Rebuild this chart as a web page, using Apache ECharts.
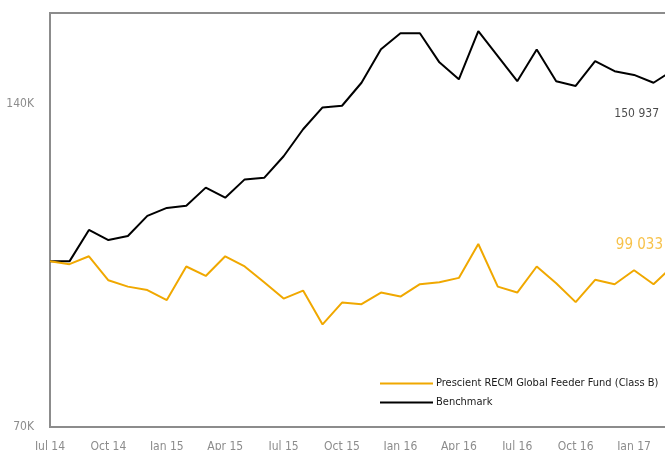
<!DOCTYPE html>
<html><head><meta charset="utf-8">
<script src="https://cdn.jsdelivr.net/npm/echarts@6/dist/echarts.min.js"></script>
<style>html,body{margin:0;padding:0;background:#fff}#c{width:665px;height:450px}</style>
</head><body><div id="c"></div>
<script>
const months = ['Jul 14','Aug 14','Sep 14','Oct 14','Nov 14','Dec 14','Jan 15','Feb 15','Mar 15','Apr 15','May 15','Jun 15','Jul 15','Aug 15','Sep 15','Oct 15','Nov 15','Dec 15','Jan 16','Feb 16','Mar 16','Apr 16','May 16','Jun 16','Jul 16','Aug 16','Sep 16','Oct 16','Nov 16','Dec 16','Jan 17','Feb 17','Mar 17'];
const fundName = 'Prescient RECM Global Feeder Fund (Class B)';
const benchName = 'Benchmark';
const fundValues = [100000,99400,101100,96000,94700,94000,92000,98900,96900,101100,98900,95600,92300,93900,87300,91500,91200,93500,92700,95200,95600,96500,103800,94700,93500,98900,95400,91600,96100,95200,98100,95200,99033];
const benchmarkValues = [100000,100000,107000,104700,105600,110300,112200,112700,117200,114700,119300,119700,125400,132900,139300,139800,146900,157900,163400,163400,153500,148000,164200,155600,147400,157800,147400,145900,153900,150600,149400,146900,150937];
const yTickLabels = ['70K','140K'];

const FONT = "'Liberation Sans Narrow','DejaVu Sans Condensed','Arial Narrow',sans-serif";
const fmtNum = v => String(Math.round(v)).replace(/\B(?=(\d{3})+(?!\d))/g, ' ');
const last = months.length - 1;

const chart = echarts.init(document.getElementById('c'), null, {renderer: 'canvas'});
chart.setOption({
  animation: false,
  textStyle: {fontFamily: FONT},
  grid: {left: 50, top: 13, width: 623, bottom: 23, outerBoundsMode: 'none', containLabel: false, show: true, borderColor: '#8c8c8c', borderWidth: 2},
  legend: {
    data: [fundName, benchName], orient: 'vertical', left: 375, top: 373,
    icon: 'rect', itemWidth: 53, itemHeight: 2, itemGap: 8,
    textStyle: {fontFamily: FONT, fontSize: 11, color: '#1a1a1a', padding: [0,0,0,-2]}
  },
  xAxis: {
    type: 'category', data: months, boundaryGap: false,
    axisLine: {show: false}, axisTick: {show: false}, splitLine: {show: false},
    axisLabel: {interval: 2, color: '#8c8c8c', fontSize: 12, margin: 14, fontFamily: FONT}
  },
  yAxis: {
    type: 'log', logBase: 2, min: 70000, max: 170700, interval: 1,
    axisLine: {show: false}, axisTick: {show: false}, splitLine: {show: false},
    axisLabel: {color: '#8c8c8c', fontSize: 12, margin: 16, fontFamily: FONT, showMaxLabel: false,
      formatter: v => { const s = Math.round(v / 1000) + 'K'; return yTickLabels.includes(s) ? s : ''; }}
  },
  series: [
    {name: fundName, type: 'line', data: fundValues, showSymbol: false, lineStyle: {color: '#f0a800', width: 2}, itemStyle: {color: '#f0a800'}, z: 3},
    {name: benchName, type: 'line', data: benchmarkValues, showSymbol: false, lineStyle: {color: '#000', width: 2}, itemStyle: {color: '#000'}, z: 2},
    {name: 'fundEnd', type: 'scatter', data: [[months[last], fundValues[last]]], symbolSize: 1, itemStyle: {color: 'transparent'}, silent: true, clip: false,
      label: {show: true, position: 'inside', align: 'right', verticalAlign: 'middle', offset: [-10, -21], color: '#f5b21a', fontSize: 15, fontFamily: FONT,
        formatter: p => fmtNum(p.value[1])}},
    {name: 'benchEnd', type: 'scatter', data: [[months[last], benchmarkValues[last]]], symbolSize: 1, itemStyle: {color: 'transparent'}, silent: true, clip: false,
      label: {show: true, position: 'inside', align: 'right', verticalAlign: 'middle', offset: [-14, 44], color: '#1a1a1a', fontSize: 12, fontFamily: FONT,
        formatter: p => fmtNum(p.value[1])}}
  ]
});
</script></body></html>
